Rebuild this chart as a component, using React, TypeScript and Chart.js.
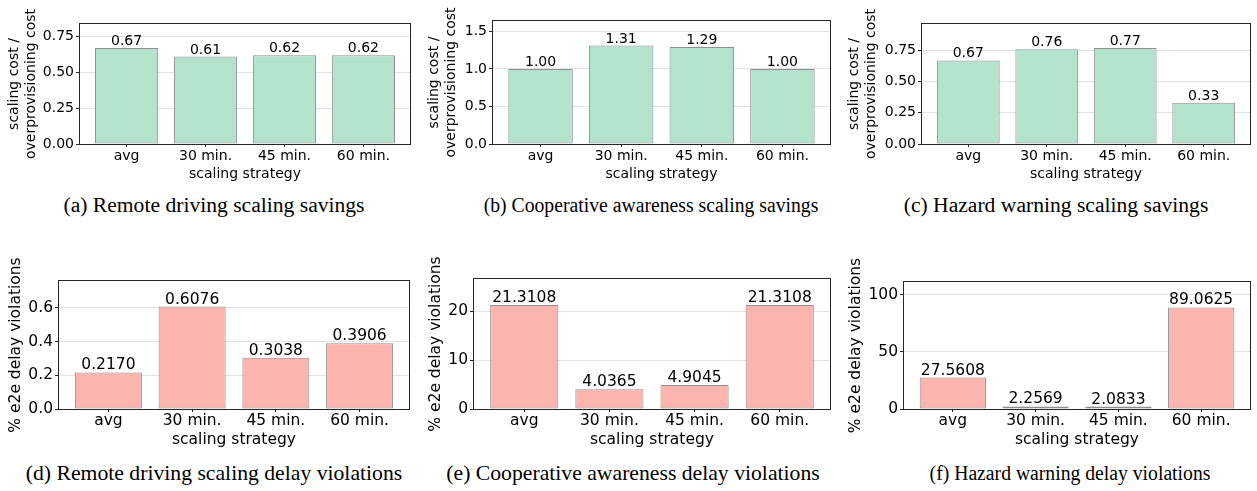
import React, { useEffect, useRef } from 'react';
import { Chart, registerables } from 'chart.js';

Chart.register(...registerables);

// ---------------- data ----------------
const categories = ['avg', '30 min.', '45 min.', '60 min.'];

const remoteSavings = [0.67, 0.61, 0.62, 0.62];
const cooperativeSavings = [1.0, 1.31, 1.29, 1.0];
const hazardSavings = [0.67, 0.76, 0.77, 0.33];

const remoteViolations = [0.217, 0.6076, 0.3038, 0.3906];
const cooperativeViolations = [21.3108, 4.0365, 4.9045, 21.3108];
const hazardViolations = [27.5608, 2.2569, 2.0833, 89.0625];

const ticksRemoteSavings = [0, 0.25, 0.5, 0.75];
const ticksCooperativeSavings = [0, 0.5, 1.0, 1.5];
const ticksHazardSavings = [0, 0.25, 0.5, 0.75];
const ticksRemoteViolations = [0, 0.2, 0.4, 0.6];
const ticksCooperativeViolations = [0, 10, 20];
const ticksHazardViolations = [0, 50, 100];

const xTitle = 'scaling strategy';
const savingsYTitle = ['scaling cost /', 'overprovisioning cost'];
const violationsYTitle = '% e2e delay violations';

const captions = [
  '(a) Remote driving scaling savings',
  '(b) Cooperative awareness scaling savings',
  '(c) Hazard warning scaling savings',
  '(d) Remote driving scaling delay violations',
  '(e) Cooperative awareness delay violations',
  '(f) Hazard warning delay violations',
];

// ---------------- styling / layout ----------------
const SAVINGS_COLOR = '#b3e2cd';
const VIOLATION_COLOR = '#fbb4ae';
const SANS = '"DejaVu Sans", sans-serif';

type Geo = {
  cx: number; cy: number; cw: number; ch: number;
  l: number; r: number; t: number; b: number;
  xAxisH: number; titlePad: number; fontSize: number; tickPad: number;
};

const geos: Geo[] = [
  { cx: 0, cy: 0, cw: 420, ch: 192, l: 80, r: 410, t: 24, b: 144, xAxisH: 39, titlePad: 6, fontSize: 14, tickPad: 2 },
  { cx: 420, cy: 0, cw: 420, ch: 192, l: 493, r: 830, t: 21, b: 144, xAxisH: 39, titlePad: 6, fontSize: 14, tickPad: 2 },
  { cx: 840, cy: 0, cw: 417, ch: 192, l: 922, r: 1250, t: 24, b: 144, xAxisH: 39, titlePad: 6, fontSize: 14, tickPad: 2 },
  { cx: 0, cy: 240, cw: 420, ch: 214, l: 59, r: 409, t: 281, b: 409, xAxisH: 40, titlePad: 6.2, fontSize: 15.5, tickPad: 1.5 },
  { cx: 420, cy: 240, cw: 420, ch: 214, l: 474, r: 830, t: 279, b: 409, xAxisH: 40, titlePad: 6.2, fontSize: 15.5, tickPad: 1.5 },
  { cx: 840, cy: 240, cw: 417, ch: 214, l: 904, r: 1250, t: 282, b: 409, xAxisH: 40, titlePad: 6.2, fontSize: 15.5, tickPad: 1.5 },
];

// caption centre x, baseline y, font size, horizontal squeeze
const captionPos = [
  { x: 214, base: 212.7, size: 21.6, sx: 1 },
  { x: 650.5, base: 212.7, size: 21.6, sx: 0.912 },
  { x: 1056, base: 212.7, size: 21.6, sx: 1 },
  { x: 214, base: 480.7, size: 21.7, sx: 1 },
  { x: 633, base: 480.7, size: 21.7, sx: 1 },
  { x: 1070, base: 480.7, size: 21.6, sx: 0.911 },
];

type PanelProps = {
  values: number[];
  ticks: number[];
  tickDecimals: number;
  labelDecimals: number;
  color: string;
  yTitle: string | string[];
  geo: Geo;
};

function Panel({ values, ticks, tickDecimals, labelDecimals, color, yTitle, geo }: PanelProps) {
  const ref = useRef<HTMLCanvasElement | null>(null);

  useEffect(() => {
    if (!ref.current) return;
    const fs = geo.fontSize;
    const font = { family: SANS, size: fs, lineHeight: 1 };
    const titleFont = { family: SANS, size: fs, lineHeight: 1.2 };
    const yMax = Math.max(...values) * 1.25;

    const framePlugin = {
      id: 'frame',
      afterDraw(chart: any) {
        const { ctx, chartArea } = chart;
        const { left, top, right, bottom } = chartArea;
        ctx.save();
        ctx.strokeStyle = '#262626';
        ctx.lineWidth = 1;
        ctx.strokeRect(left - 0.5, top - 0.5, right - left + 1, bottom - top + 1);
        ctx.restore();
      },
    };

    const labelPlugin = {
      id: 'barLabels',
      afterDatasetsDraw(chart: any) {
        const { ctx } = chart;
        const meta = chart.getDatasetMeta(0);
        ctx.save();
        ctx.font = `${fs}px ${SANS}`;
        ctx.fillStyle = '#000';
        ctx.textAlign = 'center';
        ctx.textBaseline = 'alphabetic';
        meta.data.forEach((bar: any, i: number) => {
          ctx.fillText(values[i].toFixed(labelDecimals), bar.x, bar.y - 3);
        });
        ctx.restore();
      },
    };

    const chart = new Chart(ref.current, {
      type: 'bar',
      data: {
        datasets: [
          {
            data: values.map((v, i) => ({ x: i, y: v })),
            backgroundColor: color,
            borderColor: 'rgba(125,125,125,0.85)',
            borderWidth: 1,
            borderSkipped: false,
            categoryPercentage: 1,
            barPercentage: 0.8,
          } as any,
        ],
      },
      options: {
        animation: false,
        responsive: false,
        maintainAspectRatio: false,
        events: [],
        layout: {
          padding: {
            left: 0,
            right: geo.cx + geo.cw - geo.r,
            top: geo.t - geo.cy,
            bottom: geo.cy + geo.ch - geo.b - geo.xAxisH,
          },
        },
        plugins: {
          legend: { display: false },
          tooltip: { enabled: false },
          title: { display: false },
        },
        scales: {
          x: {
            type: 'linear',
            min: -0.59,
            max: 3.59,
            offset: false,
            grid: {
              offset: false,
              drawOnChartArea: false,
              drawTicks: true,
              tickLength: 3,
              tickColor: '#262626',
              tickWidth: 1,
            },
            border: { display: false },
            ticks: {
              font,
              color: '#000',
              padding: geo.tickPad,
              autoSkip: false,
              maxRotation: 0,
              minRotation: 0,
              callback: (v: any) => categories[Math.round(Number(v))] ?? '',
            },
            afterBuildTicks: (s: any) => {
              s.ticks = categories.map((_, i) => ({ value: i }));
            },
            afterFit: (s: any) => {
              s.height = geo.xAxisH;
            },
            title: {
              display: true,
              text: xTitle,
              font: titleFont,
              color: '#000',
              padding: 0,
            },
          },
          y: {
            type: 'linear',
            min: 0,
            max: yMax,
            grid: {
              color: '#e2e2e2',
              lineWidth: 1,
              tickColor: '#262626',
              tickLength: 4,
              drawTicks: true,
            },
            border: { display: false },
            ticks: {
              font,
              color: '#000',
              padding: 2,
              callback: (v: any) => Number(v).toFixed(tickDecimals),
            },
            afterBuildTicks: (s: any) => {
              s.ticks = ticks.map((v) => ({ value: v }));
            },
            afterFit: (s: any) => {
              s.width = geo.l - geo.cx;
            },
            title: {
              display: true,
              text: yTitle as any,
              font: titleFont,
              color: '#000',
              padding: { top: geo.titlePad, bottom: 0 },
            },
          },
        },
      } as any,
      plugins: [framePlugin, labelPlugin],
    });

    return () => chart.destroy();
  }, [values, ticks, tickDecimals, labelDecimals, color, yTitle, geo]);

  return (
    <canvas
      ref={ref}
      width={geo.cw}
      height={geo.ch}
      style={{
        position: 'absolute',
        left: geo.cx,
        top: geo.cy,
        width: geo.cw,
        height: geo.ch,
      }}
    />
  );
}

export default function App() {
  const panels: PanelProps[] = [
    { values: remoteSavings, ticks: ticksRemoteSavings, tickDecimals: 2, labelDecimals: 2, color: SAVINGS_COLOR, yTitle: savingsYTitle, geo: geos[0] },
    { values: cooperativeSavings, ticks: ticksCooperativeSavings, tickDecimals: 1, labelDecimals: 2, color: SAVINGS_COLOR, yTitle: savingsYTitle, geo: geos[1] },
    { values: hazardSavings, ticks: ticksHazardSavings, tickDecimals: 2, labelDecimals: 2, color: SAVINGS_COLOR, yTitle: savingsYTitle, geo: geos[2] },
    { values: remoteViolations, ticks: ticksRemoteViolations, tickDecimals: 1, labelDecimals: 4, color: VIOLATION_COLOR, yTitle: violationsYTitle, geo: geos[3] },
    { values: cooperativeViolations, ticks: ticksCooperativeViolations, tickDecimals: 0, labelDecimals: 4, color: VIOLATION_COLOR, yTitle: violationsYTitle, geo: geos[4] },
    { values: hazardViolations, ticks: ticksHazardViolations, tickDecimals: 0, labelDecimals: 4, color: VIOLATION_COLOR, yTitle: violationsYTitle, geo: geos[5] },
  ];

  return (
    <div
      style={{
        position: 'absolute',
        left: 0,
        top: 0,
        width: 1257,
        height: 491,
        background: '#fff',
        overflow: 'hidden',
      }}
    >
      {panels.map((p, i) => (
        <Panel key={i} {...p} />
      ))}
      {captions.map((c, i) => {
        const cp = captionPos[i];
        return (
          <div
            key={'cap' + i}
            style={{
              position: 'absolute',
              left: cp.x - 300,
              top: cp.base - 0.8375 * cp.size,
              width: 600,
              textAlign: 'center',
              fontFamily: '"Liberation Serif", "Times New Roman", serif',
              fontSize: cp.size,
              lineHeight: 1,
              whiteSpace: 'nowrap',
              color: '#000',
              transform: `scaleX(${cp.sx})`,
              transformOrigin: '50% 50%',
            }}
          >
            {c}
          </div>
        );
      })}
    </div>
  );
}
